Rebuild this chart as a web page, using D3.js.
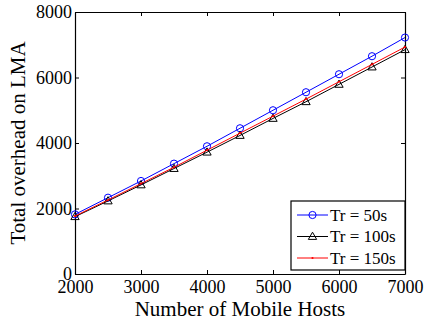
<!doctype html>
<html lang="en">
	<head>
		<meta charset="utf-8" />
		<title>Total overhead on LMA</title>
		<script type="text/javascript" src="https://cdn.jsdelivr.net/npm/d3@7"></script>
		<style>
			body { margin: 0; background: #fff; }
		</style>
	</head>
	<body>
		<script type="text/javascript">
			var w = 425;
			var h = 324;
			var margin = {left: 75, top: 12, right: 20, bottom: 50};

			// data
			var hosts = [2000, 2500, 3000, 3500, 4000, 4500, 5000, 5500, 6000, 6500, 7000];
			var tr50 = [1820, 2330, 2840, 3370, 3900, 4450, 5000, 5550, 6100, 6650, 7220];
			var tr100 = [1750, 2230, 2720, 3220, 3720, 4230, 4750, 5260, 5790, 6320, 6850];
			var tr150 = [1770, 2260, 2760, 3260, 3780, 4300, 4820, 5340, 5870, 6400, 6930];
			var xTicks = [2000, 3000, 4000, 5000, 6000, 7000];
			var yTicks = [0, 2000, 4000, 6000, 8000];

			var series = [
				{name: "Tr = 50s", values: tr50, color: "#0000ff", marker: "circle"},
				{name: "Tr = 100s", values: tr100, color: "#000000", marker: "triangle"},
				{name: "Tr = 150s", values: tr150, color: "#ff0000", marker: "point"}
			];

			var font = "'Liberation Serif', 'Times New Roman', serif";

			var svg = d3.select("body")
				.append("svg")
				.attr("width", w)
				.attr("height", h);

			var x = d3.scaleLinear().domain([2000, 7000]).range([margin.left, w - margin.right]);
			var y = d3.scaleLinear().domain([0, 8000]).range([h - margin.bottom, margin.top]);

			// white plot box
			svg.append("rect")
				.attr("x", x(2000))
				.attr("y", y(8000))
				.attr("width", x(7000) - x(2000))
				.attr("height", y(0) - y(8000))
				.attr("fill", "#fff");

			function styleAxis(g) {
				g.select(".domain").attr("stroke", "#000").attr("stroke-width", 1.2);
				g.selectAll(".tick line").attr("stroke", "#000");
				g.selectAll("text")
					.attr("fill", "#000")
					.attr("font-family", font)
					.attr("font-size", "18px");
			}

			svg.append("g")
				.attr("transform", "translate(0," + y(0) + ")")
				.call(d3.axisBottom(x).tickValues(xTicks).tickFormat(d3.format("d")).tickSizeInner(-4).tickSizeOuter(0).tickPadding(6))
				.call(styleAxis);

			svg.append("g")
				.attr("transform", "translate(0," + y(8000) + ")")
				.call(d3.axisTop(x).tickValues(xTicks).tickFormat("").tickSizeInner(-4).tickSizeOuter(0))
				.call(styleAxis);

			svg.append("g")
				.attr("transform", "translate(" + x(2000) + ",0)")
				.call(d3.axisLeft(y).tickValues(yTicks).tickFormat(d3.format("d")).tickSizeInner(-4).tickSizeOuter(0).tickPadding(3))
				.call(styleAxis);

			svg.append("g")
				.attr("transform", "translate(" + x(7000) + ",0)")
				.call(d3.axisRight(y).tickValues(yTicks).tickFormat("").tickSizeInner(-4).tickSizeOuter(0))
				.call(styleAxis);

			var line = d3.line()
				.x(function(d, i) { return x(hosts[i]); })
				.y(function(d) { return y(d); });

			var tri = d3.symbol().type(d3.symbolTriangle).size(30);

			function drawMarker(g, s, cx, cy) {
				if (s.marker == "circle") {
					g.append("circle").attr("cx", cx).attr("cy", cy).attr("r", 3.6)
						.attr("fill", "none").attr("stroke", s.color).attr("stroke-width", 1);
				} else if (s.marker == "triangle") {
					g.append("path").attr("d", tri()).attr("transform", "translate(" + cx + "," + (cy + 0.5) + ")")
						.attr("fill", "none").attr("stroke", s.color).attr("stroke-width", 1);
				} else {
					g.append("circle").attr("cx", cx).attr("cy", cy).attr("r", 1.1).attr("fill", s.color);
				}
			}

			series.forEach(function(s) {
				svg.append("path")
					.datum(s.values)
					.attr("d", line)
					.attr("fill", "none")
					.attr("stroke", s.color)
					.attr("stroke-width", 1);
				var g = svg.append("g");
				s.values.forEach(function(v, i) {
					drawMarker(g, s, x(hosts[i]), y(v));
				});
			});

			// legend
			var lg = svg.append("g");
			lg.append("rect")
				.attr("x", 291)
				.attr("y", 201)
				.attr("width", x(7000) - 291)
				.attr("height", 69)
				.attr("fill", "#fff")
				.attr("stroke", "#000")
				.attr("stroke-width", 1.2);
			series.forEach(function(s, i) {
				var ly = 215 + i * 21.5;
				lg.append("line")
					.attr("x1", 297).attr("x2", 328)
					.attr("y1", ly).attr("y2", ly)
					.attr("stroke", s.color)
					.attr("stroke-width", 1);
				drawMarker(lg, s, 312.5, ly);
				lg.append("text")
					.attr("x", 330)
					.attr("y", ly)
					.attr("dy", "0.35em")
					.attr("font-family", font)
					.attr("font-size", "17px")
					.text(s.name);
			});

			svg.append("text")
				.attr("x", (x(2000) + x(7000)) / 2)
				.attr("y", 316)
				.attr("text-anchor", "middle")
				.attr("font-family", font)
				.attr("font-size", "21px")
				.text("Number of Mobile Hosts");

			svg.append("text")
				.attr("transform", "translate(25," + (y(0) + y(8000)) / 2 + ") rotate(-90)")
				.attr("text-anchor", "middle")
				.attr("font-family", font)
				.attr("font-size", "21px")
				.text("Total overhead on LMA");
		</script>
	</body>
</html>
